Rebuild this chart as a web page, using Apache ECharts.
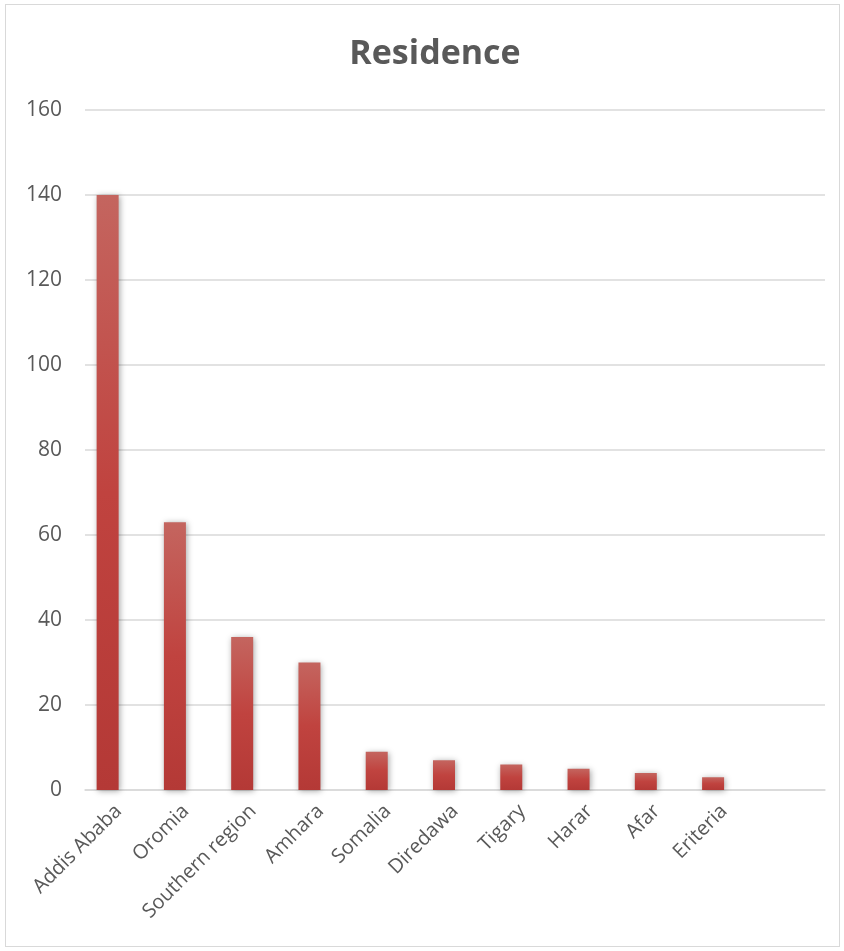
<!DOCTYPE html>
<html>
<head>
<meta charset="utf-8">
<script src="https://cdn.jsdelivr.net/npm/echarts@6/dist/echarts.min.js"></script>
<style>
  html, body { margin: 0; padding: 0; background: #fff; }
  #chart { width: 844px; height: 951px; }
  #frame { position: absolute; left: 5px; top: 4px; width: 835px; height: 943px; border: 1px solid #d9d9d9; box-sizing: border-box; pointer-events: none; }
</style>
</head>
<body>
<div id="chart"></div>
<div id="frame"></div>
<script>
// 数据
var regions = ['Addis Ababa', 'Oromia', 'Southern region', 'Amhara', 'Somalia',
  'Diredawa', 'Tigary', 'Harar', 'Afar', 'Eriteria', '']
var counts = [140, 63, 36, 30, 9, 7, 6, 5, 4, 3, null]
var yTicks = [0, 20, 40, 60, 80, 100, 120, 140, 160]

var chart = echarts.init(document.getElementById('chart'))
var textFont = '"Open Sans", "Liberation Sans", sans-serif'

var option = {
  animation: false,
  title: {
    text: 'Residence',
    left: 430,
    top: 32,
    textAlign: 'center',
    textStyle: {
      color: '#595959',
      fontSize: 34,
      fontWeight: 'bold',
      fontFamily: textFont
    }
  },
  grid: {
    left: 85,
    right: 19,
    top: 110,
    bottom: 161,
    containLabel: false
  },
  xAxis: {
    type: 'category',
    data: regions,
    axisLine: { lineStyle: { color: '#d9d9d9', width: 1.5 } },
    axisTick: { show: false },
    axisLabel: {
      interval: 0,
      rotate: 45,
      margin: 18,
      color: '#595959',
      fontSize: 20,
      fontFamily: textFont
    }
  },
  yAxis: {
    type: 'value',
    min: yTicks[0],
    max: yTicks[yTicks.length - 1],
    interval: 20,
    axisLine: { show: false },
    axisTick: { show: false },
    splitLine: { lineStyle: { color: '#d9d9d9', width: 1.5 } },
    axisLabel: {
      margin: 23,
      color: '#595959',
      fontSize: 21,
      fontFamily: textFont
    }
  },
  series: [
    {
      type: 'bar',
      data: counts,
      barWidth: 22,
      barGap: '0%',
      itemStyle: {
        color: {
          type: 'linear', x: 0, y: 0, x2: 0, y2: 1,
          colorStops: [
            { offset: 0, color: '#c4655f' },
            { offset: 0.5, color: '#c0433f' },
            { offset: 1, color: '#b43936' }
          ]
        },
        shadowColor: 'rgba(0,0,0,0.35)',
        shadowBlur: 6,
        shadowOffsetX: 1,
        shadowOffsetY: 1
      }
    },
    {
      // 空的第二组，占位使柱子偏左
      type: 'bar',
      data: regions.map(function () { return null }),
      barWidth: 22,
      barGap: '0%'
    }
  ]
}
chart.setOption(option)
</script>
</body>
</html>
